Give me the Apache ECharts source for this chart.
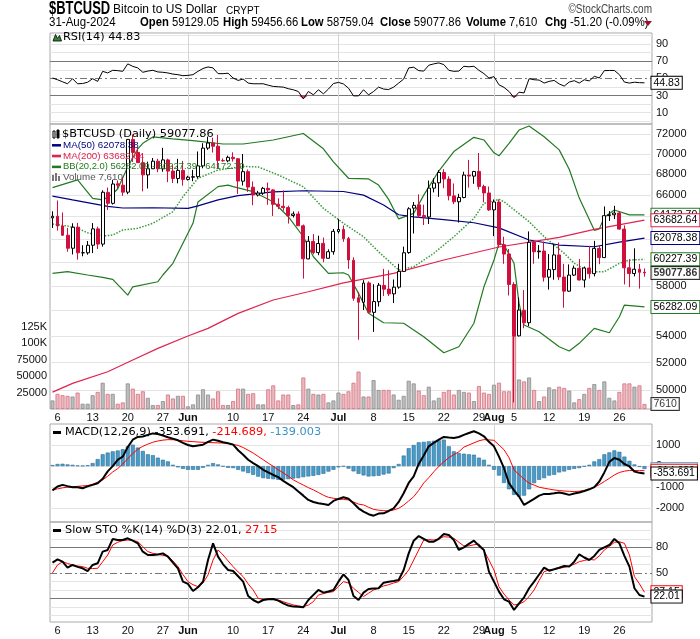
<!DOCTYPE html>
<html>
<head>
<meta charset="utf-8">
<title>$BTCUSD</title>
<script src="https://cdn.jsdelivr.net/npm/echarts@6.0.0/dist/echarts.min.js"></script>
<style>
html,body{margin:0;padding:0;background:#fff;}
#chart{width:700px;height:639px;}
</style>
</head>
<body>
<div id="chart"></div>
<script>
// ================= DATA =================
const startDate = '2024-05-05';   // first daily bar; 120 daily slots, last slot empty
const open = [
63892,64039,63163,62333,61191,63055,60794,60794,61452,62900,
61553,66256,65232,67066,66937,66278,71444,70135,69121,67928,
68526,69264,68513,69392,68297,67576,68364,
67489,67706,67753,68805,70568,71082,70759,69324,69297,69644,
69508,67321,68243,66747,66006,66190,66636,66491,65146,64960,
64837,64113,64248,63174,60266,61789,60811,61612,60319,60889,
62673,62845,62034,60147,57022,56659,58240,55849,56705,58034,
57729,57342,57892,59203,60815,64785,65091,64104,63977,66656,
67164,68155,67525,65927,65376,65772,67911,67808,68260,66819,66202,
64625,65354,61497,60694,58110,54010,56021,55030,61729,60882,
60944,58719,59356,60611,58733,57561,58894,59468,58480,59493,
59015,61169,60380,64103,64176,64342,62879,59507,59027,59388,59129.05];
const high = [
64495,65495,64390,62986,63404,63446,61452,61818,63422,63092,
66454,66712,67442,67400,67694,71483,71946,70623,70041,69220,
69579,69506,70597,69514,68897,69500,69295,
67839,68410,70230,71063,71735,71625,71907,69533,69817,70146,
69563,69977,68449,67294,66402,66779,67188,66556,65695,66438,
65007,64476,64491,63291,62259,62434,62293,62126,61097,62892,
63777,63203,62188,60399,57497,58472,58371,58131,58239,59416,
59299,58526,59850,61329,64870,65354,66067,65104,67386,67598,
68382,68479,67792,67102,66122,68231,69399,68319,70079,66987,66810,
65593,65596,62198,61117,58305,57040,57650,62673,61795,61464,
61778,60680,61572,61688,59848,59796,59693,60262,59613,61396,
61835,61408,64947,64513,65000,64482,63210,60236,61184,59836,59456.66];
const low = [
62986,62746,62285,60889,60649,60199,60492,60632,60769,61123,
61330,64614,65116,66600,65937,66086,69191,69164,66356,66623,
68515,68183,68233,67227,67144,67118,66891,
67386,67315,67589,68567,70390,70119,68507,69210,69160,69232,
66106,66902,66304,65056,65871,66017,65094,64066,64693,64547,
63378,63930,63180,58601,60239,60656,60585,59985,60300,60632,
62495,61752,59419,56777,53717,56038,55794,54321,56316,57170,
57168,56590,57757,59204,60704,62487,63897,63246,63342,66254,
65839,66647,65504,65156,63467,65702,66705,67066,66528,65323,64532,
62248,61236,59851,57207,49121,53969,54594,54766,59851,60288,
58349,57689,58506,58472,56216,57506,58814,58445,57864,58610,
58783,59815,60373,63619,63785,62834,58116,57890,58787,57768,58759.04];
const close = [
64038,63162,62334,61188,63049,60793,60794,61448,62901,61553,
66268,65232,67051,66940,66279,71448,70136,69122,67929,68526,
69265,68518,69394,68296,67578,68365,67491,
67706,67751,68804,70567,71082,70757,69342,69305,69648,69512,
67332,68241,66756,66011,66191,66639,66491,65140,64960,64828,
64096,64252,63180,60277,61804,60812,61604,60320,60888,62678,
62851,62029,60173,56977,56662,58230,55857,56714,58051,57725,
57339,57889,59205,60797,64724,65044,64088,63987,66660,67140,
68166,67532,65937,65372,65778,67913,67813,68255,66819,66201,64620,
65357,61499,60683,58116,53991,56034,55027,61710,60880,60945,
58719,59355,60610,58737,57560,58894,59478,58483,59493,59012,
61175,60381,64094,64178,64333,62880,59504,59027,59388,59129,59077.86];
const volume = [
13000,23000,21000,20000,19000,25000,8000,8000,21000,26000,
40000,23000,23000,8000,10000,39000,31000,23000,27000,17000,
6000,6000,12000,22000,16000,20000,20000,
4000,7000,22000,30000,22000,16000,27000,6000,6000,12000,
31000,31000,23000,24000,7000,7000,30000,36000,13000,22000,
22000,6000,7000,48000,31000,23000,22000,23000,10000,13000,
25000,23000,27000,40000,57000,19000,19000,44000,29000,29000,
29000,22000,14000,20000,43000,39000,28000,21000,34000,13000,
17000,26000,29000,22000,29000,26000,25000,12000,35000,25000,23000,
37000,40000,27000,27000,111000,45000,42000,48000,29000,12000,
19000,33000,30000,34000,32000,28000,10000,15000,23000,32000,
38000,29000,42000,17000,13000,26000,39000,39000,34000,36000,7610];
// overlays: [day index, value] points
const ma50 = [[0,65900],[4,65550],[11,64950],[14,64800],[20,64820],[27,64770],[29,65000],[33,65550],[37,65950],[44,66300],[50,66410],[58,66340],[62,66000],[66,65070],[69,64180],[72,63980],[78,63740],[84,63450],[89,62990],[95,61910],[101,61470],[108,61320],[113,61730],[118,62078.38]];
const ma200 = [[0,49850],[4,50480],[11,51320],[16,52190],[21,53060],[27,54000],[31,54590],[37,55770],[44,56840],[51,57510],[58,58250],[68,59040],[78,60170],[89,61300],[101,62150],[108,62860],[118,63682.64]];
const bbUpper = [[0,66700],[5,67450],[8,65700],[10,65550],[12,66100],[13,66600],[15,68700],[17,70500],[18,71050],[20,71700],[24,71500],[28,71320],[34,70980],[38,70980],[44,71390],[50,72050],[54,70500],[56,69200],[59,67600],[63,67540],[65,66950],[67,65600],[69,63800],[72,64300],[74,66000],[77,68300],[80,70220],[84,71660],[86,71390],[88,70100],[89,69800],[91,71050],[93,72410],[95,72830],[98,71720],[101,70390],[103,68470],[105,65720],[108,62770],[109,62900],[110,63950],[112,64610],[115,64170],[118,64172.70]];
const bbMiddle = [[0,63340],[3,63150],[5,62950],[7,62550],[10,62260],[12,62350],[14,62800],[17,62950],[20,63400],[24,64460],[26,65850],[29,67600],[33,68400],[38,68750],[41,68700],[45,67920],[50,66790],[54,64770],[58,63400],[62,62200],[65,60880],[69,59320],[72,59600],[76,60750],[80,62200],[84,63850],[86,65230],[89,65600],[90,65380],[95,63550],[98,62200],[102,60750],[104,59890],[107,59180],[110,59180],[113,59890],[115,60170],[118,60227.39]];
const bbLower = [[0,59040],[3,59180],[7,58900],[10,58700],[12,58540],[15,57240],[16,57920],[21,58340],[22,58900],[24,59890],[26,61620],[28,63400],[29,65360],[33,66800],[35,66950],[36,66800],[40,66320],[44,65380],[47,64000],[50,62200],[52,60450],[55,59040],[58,59090],[59,58900],[61,57380],[63,55770],[66,55030],[70,54990],[74,53940],[78,52730],[81,53180],[84,54990],[86,57920],[88,60170],[89,61620],[90,61470],[92,59890],[93,56570],[94,54850],[97,54330],[101,53180],[103,52860],[105,53440],[108,54590],[111,54250],[113,55500],[114,56430],[118,56282.09]];
const rsi = [
50.4,48.4,46.0,43.7,49.6,43.7,44.0,45.5,49.6,46.5,
58.2,56.3,59.4,59.0,58.2,66.9,64.0,62.2,57.1,58.5,
59.4,57.5,57.1,56.3,55.0,54.3,53.1,
53.5,54.3,58.2,61.5,63.3,62.2,55.5,55.5,56.0,50.4,
47.6,49.2,44.5,43.7,43.7,43.7,42.0,40.6,40.2,39.8,
38.0,36.7,34.7,26.1,34.7,30.8,36.7,32.0,37.5,44.0,
45.3,43.5,38.6,29.6,29.6,36.7,30.8,34.7,39.8,37.5,
37.0,39.8,44.5,49.2,62.2,63.0,59.0,58.5,65.3,66.9,
68.0,66.1,59.4,58.2,58.5,64.1,63.5,64.1,59.4,55.5,50.4,
52.0,42.5,39.5,34.7,27.6,33.9,33.0,49.6,48.4,48.0,
44.5,46.5,47.6,43.5,41.0,45.7,47.3,44.5,48.4,47.0,
52.4,50.5,59.0,59.2,59.2,54.3,45.7,44.5,45.5,45.0,44.83];
const macdLine = [
-1150,-968,-889,-950,-1000,-1000,-1048,-960,-889,-810,
-600,-250,0,300,450,900,1250,1380,1400,1480,
1550,1520,1450,1370,1300,1222,1100,
1000,937,980,1016,1150,1254,1200,1127,1080,1016,
750,540,300,143,0,-175,-300,-420,-524,-700,
-850,-1000,-1206,-1400,-1603,-1700,-1762,-1800,-1841,-1650,
-1556,-1476,-1550,-1762,-2000,-2159,-2280,-2349,-2250,-2238,
-2127,-2000,-1700,-1286,-800,-492,100,500,937,1100,
1254,1381,1350,1333,1381,1480,1571,1651,1550,1413,1150,
937,450,-100,-810,-1150,-1444,-1841,-1700,-1556,-1400,
-1317,-1317,-1290,-1254,-1300,-1365,-1300,-1254,-1180,-1100,
-1000,-730,-300,200,381,302,100,-16,-254,-320,-353.691];
const macdSignal = [
-1127,-1080,-1030,-1000,-980,-960,-940,-921,-860,-760,
-651,-480,-280,-120,100,350,600,800,937,1040,
1130,1190,1230,1254,1250,1230,1200,
1175,1160,1140,1127,1120,1110,1100,1095,1070,1030,
980,880,750,620,460,300,140,-10,-175,-320,
-480,-650,-780,-900,-1020,-1127,-1250,-1380,-1480,-1524,
-1560,-1580,-1603,-1700,-1800,-1841,-1950,-2050,-2090,-2110,
-2127,-2080,-2000,-1850,-1650,-1450,-1150,-800,-550,-270,
-16,200,400,540,680,900,1000,1100,1200,1254,1240,
1222,1000,778,400,-175,-400,-620,-810,-900,-1000,
-1048,-1090,-1130,-1159,-1180,-1195,-1206,-1190,-1160,-1095,
-1000,-880,-730,-580,-420,-302,-240,-206,-210,-214,-214.689];
const macdHist = [
50,100,110,80,60,30,20,40,143,333,
560,640,698,740,800,937,1016,880,720,560,
520,400,300,222,63,-60,-130,
-175,-175,-175,-80,60,143,80,-16,-80,-95,
-180,-254,-330,-413,-500,-571,-600,-619,-651,-640,
-619,-590,-571,-524,-490,-460,-420,-365,-260,-175,
-60,-16,-120,-250,-365,-440,-492,-480,-460,-400,
-350,-95,100,500,850,1000,1127,1150,1175,1200,
1222,1254,937,700,619,587,560,540,400,300,63,
-175,-450,-800,-1100,-1365,-1444,-1400,-1100,-810,-650,
-571,-450,-413,-300,-254,-175,-130,-95,-16,63,
222,330,560,651,746,680,450,250,80,-40,-139.003];
const stoK = [
62,65.9,63.1,56,59.2,57,55.3,52,59.2,61.2,
74.9,76.9,89.8,88.6,88.6,90.6,87.8,84.7,74.9,71,
71,71.5,72.9,69,62,55.3,39.6,
36.9,28.6,33,39.6,65.1,84.7,69,60,53.3,52.2,
46,39.6,22.7,18,14.9,18,19,19.2,17.3,14,
11.4,10.2,10,9.4,18,24,29.8,26.7,28,29.8,
39.6,48.2,41.6,22.7,18,26.7,31,31.5,31.8,38.4,
39.5,40.4,41.6,53.3,72.9,87.8,93.3,90,86.7,86.7,
90,95.7,94.5,88.6,76.9,80,84,87.8,82,76.9,51.4,
39.6,27.8,18.8,16.1,6.3,14.1,21.2,31.8,39.6,48,
56.1,52.5,54.1,56,58,57.3,63.1,71.8,68,65.1,
69.8,76.9,80,82.7,89.8,84.7,70,57.3,31.8,23.9,22.01];
const stoD = [
50,59.2,63.1,61,59.2,58,57.3,55.3,55,55.3,
63,71,82.7,86,87.8,88.6,88,86.7,80.8,75,
72.9,71.8,70.5,69.8,64,57.3,48,
39.6,36,33.7,38,47.5,65,76.9,71,64,57.3,
51,45.5,37,29.8,20,18.5,19.2,18.5,18,16,
14,12.2,11,10.2,12,16.1,23.9,25.5,27,27.8,
34,39.6,38,31.8,27,22,26,29.8,32,34.5,
36,38,39.6,46,53.3,65,76.9,88.6,89,88.6,
90,92.5,92,90.6,86,81.6,81.6,83,83.9,76,65,
53.3,33.7,25,18,12.2,13,16.1,22,29.8,41,
51.4,53.3,54,55.3,56.5,58,60,63.1,64.5,65.9,
65.1,70,76.9,81,85.9,86.5,84.7,71,45.5,37,27.15];
// axis ticks / labels
const tickDates = ['2024-05-06','2024-05-13','2024-05-20','2024-05-27','2024-06-01','2024-06-10','2024-06-17','2024-06-24','2024-07-01','2024-07-08','2024-07-15','2024-07-22','2024-07-29','2024-08-01','2024-08-05','2024-08-12','2024-08-19','2024-08-26'];
const tickTexts = ['6','13','20','27','Jun','10','17','24','Jul','8','15','22','29','Aug','5','12','19','26'];
const monthStarts = ['2024-06-01','2024-07-01','2024-08-01'];
const priceTicks = [50000,52000,54000,56000,58000,60000,62000,64000,66000,68000,70000,72000];
const volTicks = [25000,50000,75000,100000,125000];
const volTickLabels = ['25000','50000','75000','100K','125K'];
const rsiTicks = [10,30,50,70,90];
const macdTicks = [-2000,-1000,0,1000];
const stoTicks = [20,50,80];

// ================= CHART =================
const dates = [];
{ const d = new Date(startDate + 'T00:00:00Z'); for (let i = 0; i < 120; i++) { dates.push(d.toISOString().slice(0,10)); d.setUTCDate(d.getUTCDate() + 1); } }
const n = close.length;
const tickMap = {}; tickDates.forEach((d, i) => { tickMap[d] = tickTexts[i]; });

const SANS = '"Liberation Sans", Arial, Helvetica, sans-serif';
const VERD = '"DejaVu Sans", Verdana, sans-serif';
const RED = '#d10f3c', NAVY = '#000080', PINKLINE = '#e0244f', GREEN = '#217a21', BLUE = '#4a9cc8';
const GRIDC = '#e4e4e4', DARKC = '#777';

const grids = [
  {top: 33, height: 91}, {top: 124, height: 285}, {top: 424, height: 98}, {top: 522, height: 100}
].map(g => Object.assign({left: 50, right: 48, show: true, borderColor: '#a9a9a9', borderWidth: 1, backgroundColor: 'rgba(0,0,0,0)'}, g));

const xAxes = grids.map((g, i) => ({
  type: 'category', gridIndex: i, data: dates, boundaryGap: true,
  axisLine: {show: false}, axisTick: {show: false}, splitLine: {show: false},
  axisLabel: {
    show: i === 1 || i === 3, margin: 3, fontSize: 11, color: '#111', fontFamily: SANS,
    interval: (idx, val) => tickMap[val] !== undefined,
    formatter: (val) => { const t = tickMap[val]; if (t === undefined) return ''; return /^[A-Z]/.test(t) ? '{b|' + t + '}' : t; },
    rich: {b: {fontWeight: 'bold', fontSize: 11, fontFamily: SANS, color: '#111'}}
  }
}));
const hidden = {axisLine: {show: false}, axisTick: {show: false}, splitLine: {show: false}, axisLabel: {show: false}};
const yAxes = [
  Object.assign({type: 'value', gridIndex: 0, min: -3.2, max: 102.9}, hidden),
  Object.assign({type: 'log', logBase: 10, gridIndex: 1, min: 48668, max: 73033}, hidden),
  {type: 'value', gridIndex: 1, min: 0, max: 434451, interval: 25000, position: 'left',
   axisLine: {show: false}, axisTick: {show: false}, splitLine: {show: false},
   axisLabel: {show: true, margin: 3, fontSize: 11, color: '#111', fontFamily: SANS, showMinLabel: false, showMaxLabel: false,
     formatter: v => { const k = volTicks.indexOf(v); return k >= 0 ? volTickLabels[k] : ''; }}},
  Object.assign({type: 'value', gridIndex: 2, min: -2649, max: 1995}, hidden),
  Object.assign({type: 'value', gridIndex: 3, min: -7.9, max: 109.8}, hidden)
];

const LBL = {show: true, position: 'end', distance: 4, color: '#111', fontSize: 11, fontFamily: SANS};
function guide(xi, yi, items) {
  return {type: 'line', xAxisIndex: xi, yAxisIndex: yi, data: [], z: 1, silent: true,
    markLine: {silent: true, z: 1, symbol: 'none', animation: false, label: {show: false},
      lineStyle: {color: GRIDC, width: 1, type: 'solid'}, data: items}};
}
function hl(v, labelled, style) {
  const o = {yAxis: v, label: labelled ? Object.assign({}, LBL, {formatter: String(v)}) : {show: false}};
  if (style) o.lineStyle = style;
  return o;
}
const vlines = monthStarts.map(d => ({xAxis: d, label: {show: false}, lineStyle: {color: '#d4d4d4', width: 1, type: 'solid'}}));
const darkStyle = {color: DARKC, width: 1, type: 'solid'};
const dashDot = {color: DARKC, width: 1, type: [7, 3, 2, 3]};

function tag(text, border, bold) {
  return {show: true, formatter: text, color: '#000', fontSize: 10.5, fontFamily: SANS, fontWeight: bold ? 'bold' : 'normal',
    backgroundColor: '#fff', borderColor: border, borderWidth: 1, padding: [1, 2, 0, 2], distance: 7};
}
const fmt = (v, d) => Number(v).toFixed(d);
const lastOf = a => a[a.length - 1][1];

// gridline sets
const rsiLevels = [];
for (let v = 0; v <= 100; v += 10) {
  const st = (v === 30 || v === 70) ? darkStyle : (v === 50 ? dashDot : null);
  rsiLevels.push(hl(v, rsiTicks.includes(v), st));
}
const stoLevels = [];
for (let v = 0; v <= 100; v += 10) {
  const st = (v === 20 || v === 80) ? darkStyle : (v === 50 ? dashDot : null);
  stoLevels.push(hl(v, stoTicks.includes(v), st));
}
const priceLevels = priceTicks.map(v => hl(v, true));
const macdLevels = macdTicks.map(v => hl(v, true));

const candleData = close.map((c, i) => [open[i], c, low[i], high[i]]);
const volData = volume.map((v, i) => ({value: v, itemStyle: close[i] >= open[i]
  ? {color: '#bdbdbd', borderColor: '#8c8c8c', borderWidth: 0.8}
  : {color: '#e9b9bf', borderColor: '#d7707f', borderWidth: 0.8}}));

const series = [
  // RSI panel
  guide(0, 0, rsiLevels.concat(vlines)),
  {type: 'line', name: 'RSI<30', xAxisIndex: 0, yAxisIndex: 0, data: rsi.map(v => Math.min(v, 30)), symbol: 'none', z: 2, silent: true,
   lineStyle: {width: 0, opacity: 0}, areaStyle: {color: '#d8334f', opacity: 0.9, origin: 30}},
  {type: 'line', name: 'RSI', xAxisIndex: 0, yAxisIndex: 0, data: rsi, symbol: 'none', z: 3,
   lineStyle: {color: '#000', width: 1}, endLabel: tag(fmt(rsi[n - 1], 2), '#000')},
  // main panel
  guide(1, 1, priceLevels.concat(vlines)),
  {type: 'bar', name: 'Volume', xAxisIndex: 1, yAxisIndex: 2, data: volData, barWidth: 4, z: 2},
  {type: 'line', name: 'BBU', xAxisIndex: 1, yAxisIndex: 1, data: bbUpper, symbol: 'none', z: 3,
   lineStyle: {color: GREEN, width: 1.2}, endLabel: tag(fmt(lastOf(bbUpper), 2), GREEN)},
  {type: 'line', name: 'BBM', xAxisIndex: 1, yAxisIndex: 1, data: bbMiddle, symbol: 'none', z: 3,
   lineStyle: {color: '#3a9a3a', width: 1.5, type: 'dotted'}, endLabel: tag(fmt(lastOf(bbMiddle), 2), GREEN)},
  {type: 'line', name: 'BBL', xAxisIndex: 1, yAxisIndex: 1, data: bbLower, symbol: 'none', z: 3,
   lineStyle: {color: GREEN, width: 1.2}, endLabel: tag(fmt(lastOf(bbLower), 2), GREEN)},
  {type: 'line', name: 'MA50', xAxisIndex: 1, yAxisIndex: 1, data: ma50, symbol: 'none', z: 3.2,
   lineStyle: {color: NAVY, width: 1.2}, endLabel: tag(fmt(lastOf(ma50), 2), NAVY)},
  {type: 'line', name: 'MA200', xAxisIndex: 1, yAxisIndex: 1, data: ma200, symbol: 'none', z: 3.4,
   lineStyle: {color: PINKLINE, width: 1.2}, endLabel: tag(fmt(lastOf(ma200), 2), PINKLINE)},
  {type: 'candlestick', name: 'Price', xAxisIndex: 1, yAxisIndex: 1, data: candleData, barWidth: 3.4, z: 4,
   itemStyle: {color: '#fff', color0: RED, borderColor: '#000', borderColor0: RED, borderWidth: 1}},
  {type: 'scatter', xAxisIndex: 1, yAxisIndex: 1, data: [[n - 1, close[n - 1]]], symbolSize: 0, z: 6, silent: true,
   label: Object.assign(tag(fmt(close[n - 1], 2), '#000', true), {position: 'right'})},
  {type: 'scatter', xAxisIndex: 1, yAxisIndex: 2, data: [[n - 1, volume[n - 1]]], symbolSize: 0, z: 6, silent: true,
   label: Object.assign(tag(String(volume[n - 1]), '#000'), {position: 'right'})},
  // MACD panel
  guide(2, 3, macdLevels.concat(vlines)),
  {type: 'bar', name: 'Hist', xAxisIndex: 2, yAxisIndex: 3, data: macdHist, barWidth: 4, z: 2,
   itemStyle: {color: BLUE, borderColor: '#2b6f98', borderWidth: 0.6}},
  {type: 'scatter', xAxisIndex: 2, yAxisIndex: 3, data: [[n - 1, macdHist[n - 1]]], symbolSize: 0, z: 3, silent: true,
   label: Object.assign(tag(fmt(macdHist[n - 1], 3), BLUE), {position: 'right'})},
  {type: 'line', name: 'Signal', xAxisIndex: 2, yAxisIndex: 3, data: macdSignal, symbol: 'none', z: 4,
   lineStyle: {color: '#ff0000', width: 1}, endLabel: tag(fmt(macdSignal[n - 1], 3), '#ff0000')},
  {type: 'line', name: 'MACD', xAxisIndex: 2, yAxisIndex: 3, data: macdLine, symbol: 'none', z: 6,
   lineStyle: {color: '#000', width: 2}, endLabel: tag(fmt(macdLine[n - 1], 3), '#000')},
  // STO panel
  guide(3, 4, stoLevels.concat(vlines)),
  {type: 'line', name: '%D', xAxisIndex: 3, yAxisIndex: 4, data: stoD, symbol: 'none', z: 4,
   lineStyle: {color: '#ff0000', width: 1}, endLabel: tag(fmt(stoD[n - 1], 2), '#ff0000')},
  {type: 'line', name: '%K', xAxisIndex: 3, yAxisIndex: 4, data: stoK, symbol: 'none', z: 5,
   lineStyle: {color: '#000', width: 2}, endLabel: tag(fmt(stoK[n - 1], 2), '#000')}
];

// ---------- header & legends (text) ----------
function txt(x, y, text, size, family, fill, weight, align, rich, sx) {
  const st = {text: text, x: 0, y: 0, fontSize: size, fontFamily: family, fill: fill || '#000', fontWeight: weight || 'normal',
    textAlign: align || 'left', textVerticalAlign: 'middle', verticalAlign: 'middle'};
  if (rich) st.rich = rich;
  return {type: 'text', silent: true, z: 100, x: x, y: y, scaleX: sx || 1, style: st};
}
const hb = {b: {fontWeight: 'bold', fontSize: 12, fontFamily: SANS, fill: '#000'}};
const graphics = [
  txt(49, 9, '$BTCUSD', 18, SANS, '#000', 'bold', 'left', null, 0.72),
  txt(113, 10, 'Bitcoin to US Dollar', 12.5, SANS, '#000', 'normal', 'left', null, 0.96),
  txt(226, 11, 'CRYPT', 10, SANS, '#000'),
  txt(652, 10, '\u00A9StockCharts.com', 12.5, SANS, '#444', 'normal', 'right', null, 0.8),
  txt(49, 23, '31-Aug-2024', 12, SANS, '#000', 'normal', 'left', null, 0.96),
  txt(140, 23, '{b|Open} 59129.05', 12, SANS, '#000', 'normal', 'left', hb, 0.94),
  txt(223, 23, '{b|High} 59456.66', 12, SANS, '#000', 'normal', 'left', hb, 0.94),
  txt(301, 23, '{b|Low} 58759.04', 12, SANS, '#000', 'normal', 'left', hb, 0.94),
  txt(380, 23, '{b|Close} 59077.86', 12, SANS, '#000', 'normal', 'left', hb, 0.94),
  txt(466, 23, '{b|Volume} 7,610', 12, SANS, '#000', 'normal', 'left', hb, 0.94),
  txt(545, 23, '{b|Chg} -51.20 (-0.09%)', 12, SANS, '#000', 'normal', 'left', hb, 0.94),
  {type: 'polygon', silent: true, z: 100, shape: {points: [[644, 21], [652, 21], [648, 26]]}, style: {fill: '#9b1030'}},
  // RSI legend
  {type: 'polygon', silent: true, z: 100, shape: {points: [[53, 41], [55.5, 34.5], [57.5, 38.5], [59.5, 35.5], [61.5, 41]]}, style: {fill: '#2e8b2e', stroke: '#000', lineWidth: 0.8}},
  txt(63, 37, 'RSI(14) ' + fmt(rsi[n - 1], 2), 11.3, VERD, '#000'),
  // main legend
  {type: 'rect', silent: true, z: 100, shape: {x: 53, y: 131, width: 2, height: 7}, style: {fill: '#fff', stroke: '#000', lineWidth: 1}},
  {type: 'rect', silent: true, z: 100, shape: {x: 57, y: 130, width: 2, height: 8}, style: {fill: '#000', stroke: '#000', lineWidth: 1}},
  txt(62, 134.5, '$BTCUSD (Daily) ' + fmt(close[n - 1], 2), 11.3, VERD, '#000'),
  {type: 'line', silent: true, z: 100, shape: {x1: 52, y1: 145.3, x2: 61, y2: 145.3}, style: {stroke: NAVY, lineWidth: 2.5}},
  txt(63, 145.3, 'MA(50) ' + fmt(lastOf(ma50), 2), 9.8, SANS, NAVY),
  {type: 'line', silent: true, z: 100, shape: {x1: 52, y1: 156.1, x2: 61, y2: 156.1}, style: {stroke: PINKLINE, lineWidth: 2.5}},
  txt(63, 156.1, 'MA(200) ' + fmt(lastOf(ma200), 2), 9.8, SANS, PINKLINE),
  {type: 'line', silent: true, z: 100, shape: {x1: 52, y1: 166.9, x2: 61, y2: 166.9}, style: {stroke: GREEN, lineWidth: 2.5}},
  txt(63, 166.9, 'BB(20,2.0) ' + fmt(lastOf(bbLower), 2) + ' - ' + fmt(lastOf(bbMiddle), 2) + ' - ' + fmt(lastOf(bbUpper), 2), 9.4, SANS, GREEN),
  {type: 'rect', silent: true, z: 100, shape: {x: 52, y: 175, width: 2, height: 6}, style: {fill: '#777'}},
  {type: 'rect', silent: true, z: 100, shape: {x: 55, y: 173, width: 2, height: 8}, style: {fill: '#777'}},
  {type: 'rect', silent: true, z: 100, shape: {x: 58, y: 176, width: 2, height: 5}, style: {fill: '#777'}},
  txt(63, 177.7, 'Volume 7,610', 9.8, SANS, '#555'),
  // MACD legend
  {type: 'line', silent: true, z: 100, shape: {x1: 53, y1: 432.5, x2: 61, y2: 432.5}, style: {stroke: '#000', lineWidth: 3}},
  txt(65, 432.5, '{k|MACD(12,26,9) ' + fmt(macdLine[n - 1], 3) + ',} {r|' + fmt(macdSignal[n - 1], 3) + ',} {c|' + fmt(macdHist[n - 1], 3) + '}', 11.3, VERD, '#000', 'normal', 'left',
      {k: {fill: '#000', fontSize: 11.3, fontFamily: VERD}, r: {fill: '#ff0000', fontSize: 11.3, fontFamily: VERD}, c: {fill: '#3a93c6', fontSize: 11.3, fontFamily: VERD}}),
  // STO legend
  {type: 'line', silent: true, z: 100, shape: {x1: 53, y1: 530.5, x2: 61, y2: 530.5}, style: {stroke: '#000', lineWidth: 3}},
  txt(65, 530.5, '{k|Slow STO %K(14) %D(3) ' + fmt(stoK[n - 1], 2) + ',} {r|' + fmt(stoD[n - 1], 2) + '}', 11.3, VERD, '#000', 'normal', 'left',
      {k: {fill: '#000', fontSize: 11.3, fontFamily: VERD}, r: {fill: '#ff0000', fontSize: 11.3, fontFamily: VERD}})
];

const chart = echarts.init(document.getElementById('chart'), null, {renderer: 'canvas'});
chart.setOption({
  animation: false,
  backgroundColor: '#fff',
  grid: grids,
  xAxis: xAxes,
  yAxis: yAxes,
  series: series,
  graphic: graphics
});
</script>
</body>
</html>
